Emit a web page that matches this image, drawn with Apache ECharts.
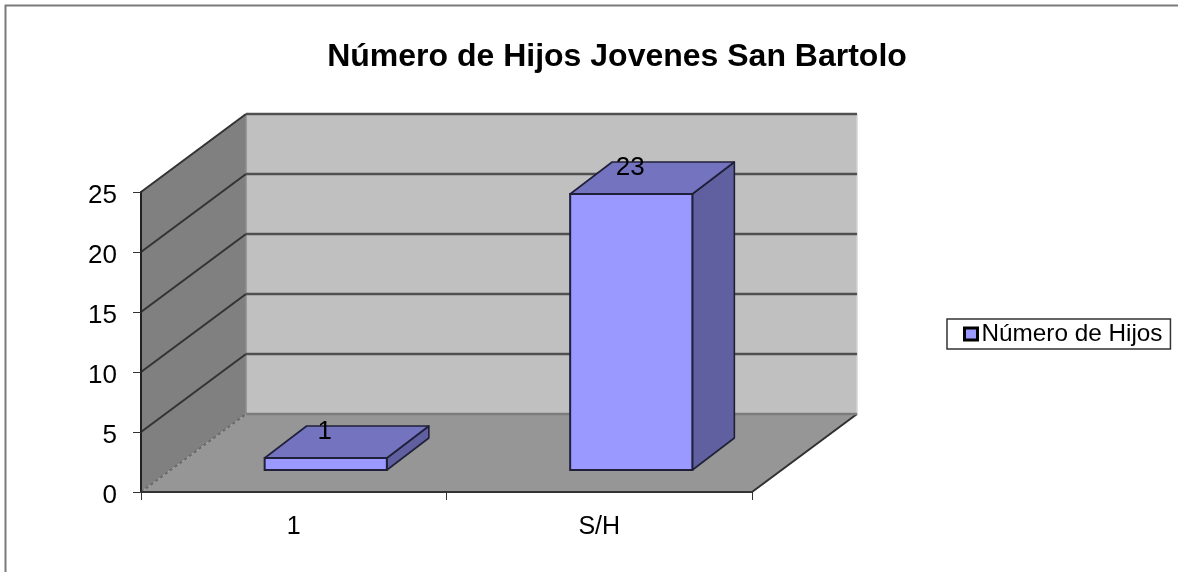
<!DOCTYPE html>
<html><head><meta charset="utf-8">
<style>html,body{margin:0;padding:0;background:#fff}#c{width:1178px;height:572px}#c canvas{filter:blur(0.45px)}</style>
<script src="https://cdn.jsdelivr.net/npm/echarts@6/dist/echarts.min.js"></script>
</head><body><div id="c"></div>
<script>
const titleText = 'Número de Hijos Jovenes San Bartolo';
const seriesName = 'Número de Hijos';
const categories = ['1', 'S/H'];
const values = [1, 23];
const yTicks = [0, 5, 10, 15, 20, 25];

const FONT = '"Liberation Sans", Arial, sans-serif';
const WALL = {dx: 105, dy: -78};
const BAR = {dx: 42, dy: -32, shiftX: 32, shiftY: -22, ratio: 0.4};
const poly = (points, fill, stroke, lw, dash) => ({
  type: 'polygon', shape: {points},
  style: {fill, stroke: stroke || 'none', lineWidth: lw || 0, lineDash: dash || null, lineJoin: 'round'}
});
const line = (points, stroke, lw, dash) => ({
  type: 'polyline', shape: {points},
  style: {fill: 'none', stroke, lineWidth: lw, lineDash: dash || null}
});

const chart = echarts.init(document.getElementById('c'), null, {renderer: 'canvas'});
chart.setOption({
  animation: false,
  backgroundColor: '#fff',
  title: {
    text: titleText, left: 617, top: 36, textAlign: 'center', padding: [5, 10, 5, 0],
    textStyle: {fontFamily: FONT, fontSize: 32, fontWeight: 'bold', color: '#000'}
  },
  legend: {
    data: [seriesName], left: 947, top: 319, orient: 'horizontal',
    padding: [3, 8, 3, 16], itemGap: 0, itemWidth: 13, itemHeight: 12,
    icon: 'rect', borderColor: '#333', borderWidth: 1.5, selectedMode: false,
    itemStyle: {color: '#9999ff', borderColor: '#000', borderWidth: 3},
    textStyle: {fontFamily: FONT, fontSize: 24.3, color: '#000', padding: [0, 0, 0, -1]}
  },
  grid: {left: 141, top: 192, width: 611, height: 300},
  xAxis: {
    type: 'category', data: categories, z: 5,
    axisLine: {lineStyle: {color: '#333', width: 2}},
    axisTick: {show: true, alignWithLabel: false, length: 8, lineStyle: {color: '#333', width: 1}},
    axisLabel: {fontFamily: FONT, fontSize: 25, color: '#000', margin: 23},
    splitLine: {show: false}
  },
  yAxis: {
    type: 'value', min: 0, max: 25, interval: 5, z: 5,
    axisLine: {show: true, lineStyle: {color: '#222', width: 2}},
    axisTick: {show: true, length: 8, lineStyle: {color: '#333', width: 1}},
    axisLabel: {fontFamily: FONT, fontSize: 26, color: '#000', margin: 24, verticalAlign: 'top', padding: [-9, 0, 0, 0]},
    splitLine: {show: false}
  },
  graphic: [{
    type: 'polyline', silent: true, z: 100,
    shape: {points: [[5.5, 580], [5.5, 5.5], [1190, 5.5]]},
    style: {fill: 'none', stroke: '#7a7a7a', lineWidth: 2}
  }],
  series: [
    {
      name: 'walls', type: 'custom', coordinateSystem: 'cartesian2d', z: 1, silent: true,
      data: [[0, 0]], encode: {x: 0, y: 1},
      renderItem(params) {
        const g = params.coordSys;
        const l = g.x, r = g.x + g.width, t = g.y, b = g.y + g.height;
        const dx = WALL.dx, dy = WALL.dy;
        return {type: 'group', children: [
          poly([[l + dx, t + dy], [r + dx, t + dy], [r + dx, b + dy], [l + dx, b + dy]], '#c0c0c0'),
          poly([[l, t], [l + dx, t + dy], [l + dx, b + dy], [l, b]], '#808080'),
          poly([[l, b], [r, b], [r + dx, b + dy], [l + dx, b + dy]], '#969696'),
          line([[l + dx, t + dy], [l + dx, b + dy]], '#8c8c8c', 1.5),
          line([[r + dx, t + dy], [r + dx, b + dy]], '#d4d4d4', 1.5),
          line([[r, b], [r + dx, b + dy]], '#303030', 2)
        ]};
      }
    },
    {
      name: 'gridlines', type: 'custom', coordinateSystem: 'cartesian2d', z: 2, silent: true,
      data: yTicks.map(t => [0, t]), encode: {x: 0, y: 1},
      renderItem(params, api) {
        const g = params.coordSys;
        const y = api.coord([0, api.value(1)])[1];
        const isZero = api.value(1) === 0;
        const dx = WALL.dx, dy = WALL.dy;
        return {type: 'group', children: [
          line([[g.x, y], [g.x + dx, y + dy]], isZero ? '#6a6a6a' : '#333', 2, isZero ? [3, 3] : null),
          line([[g.x + dx, y + dy], [g.x + g.width + dx, y + dy]], isZero ? '#7c7c7c' : '#505050', 2.6)
        ]};
      }
    },
    {
      name: seriesName, type: 'custom', coordinateSystem: 'cartesian2d', z: 3,
      itemStyle: {color: '#9999ff', borderColor: '#000', borderWidth: 2},
      data: values.map((v, i) => [i, v]), encode: {x: 0, y: 1},
      renderItem(params, api) {
        const base = api.coord([api.value(0), 0]);
        const top = api.coord([api.value(0), api.value(1)]);
        const w = api.size([1, 0])[0] * BAR.ratio;
        const xL = base[0] - w / 2 + BAR.shiftX, xR = xL + w;
        const yB = base[1] + BAR.shiftY, yT = top[1] + BAR.shiftY;
        const dx = BAR.dx, dy = BAR.dy, edge = '#20203a';
        return {type: 'group', children: [
          poly([[xR, yT], [xR + dx, yT + dy], [xR + dx, yB + dy], [xR, yB]], '#6060a0', edge, 1.6),
          poly([[xL, yT], [xL + dx, yT + dy], [xR + dx, yT + dy], [xR, yT]], '#7373bf', edge, 1.6),
          {type: 'rect', shape: {x: xL, y: yT, width: w, height: yB - yT},
           style: {fill: '#9999ff', stroke: edge, lineWidth: 2}},
          {type: 'text', z2: 10, style: {
            text: String(api.value(1)), x: (xL + xR) / 2 - 1, y: yT - 26,
            align: 'center', verticalAlign: 'middle',
            font: '26px ' + FONT, fill: '#000'
          }}
        ]};
      }
    }
  ]
});
</script></body></html>
